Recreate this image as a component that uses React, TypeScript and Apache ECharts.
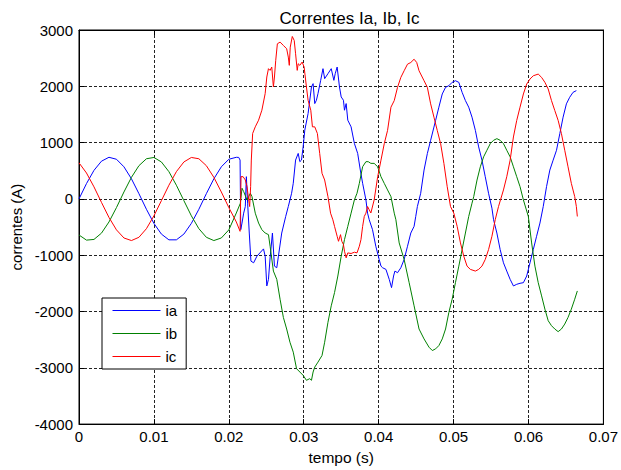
import React, { useEffect, useRef } from "react";
import * as echarts from "echarts";

const chartTitle = "Correntes Ia, Ib, Ic";
const xName = "tempo (s)";
const yName = "correntes (A)";
const seriesNames = ["ia", "ib", "ic"];
const xTickLabels = ["0", "0.01", "0.02", "0.03", "0.04", "0.05", "0.06", "0.07"];
const yTickLabels = ["-4000", "-3000", "-2000", "-1000", "0", "1000", "2000", "3000"];

const iaData = [
  [0, 0], [0.001, 272], [0.002, 507], [0.003, 670], [0.004, 739], [0.005, 704], [0.006, 570],
  [0.007, 357], [0.008, 93], [0.009, -184], [0.01, -435], [0.011, -625], [0.012, -727],
  [0.013, -727], [0.014, -625], [0.015, -435], [0.016, -184], [0.017, 93], [0.018, 357],
  [0.019, 570], [0.02, 704], [0.021, 739], [0.02132, 737], [0.0215, 690], [0.02159, -547],
  [0.02176, -430], [0.02198, -253], [0.0222, -135], [0.02234, 395], [0.02251, -76],
  [0.02273, -606], [0.02295, -1105], [0.02331, -1135], [0.02375, -1017], [0.02463, -888],
  [0.02485, -1017], [0.02507, -1546], [0.02529, -1429], [0.02551, -1047], [0.02582, -606],
  [0.02609, -1194], [0.0264, -1223], [0.02662, -1017], [0.02706, -606], [0.02759, -312],
  [0.02794, -135], [0.02838, 100], [0.0286, 277], [0.02891, 690], [0.02926, 808],
  [0.02948, 661], [0.0297, 690], [0.02992, 926], [0.03014, 1221], [0.03058, 1516],
  [0.03103, 1988], [0.03125, 2047], [0.03147, 1693], [0.03169, 1752], [0.0319, 1870],
  [0.03226, 2106], [0.03257, 2313], [0.03279, 2136], [0.03323, 2224], [0.03367, 2313],
  [0.03402, 2106], [0.0342, 2224], [0.03446, 2342], [0.03477, 1988], [0.035, 1811],
  [0.0353, 1752], [0.03544, 1575], [0.03566, 1693], [0.03588, 1398], [0.03632, 1280],
  [0.03676, 985], [0.0372, 808], [0.03755, 513], [0.03786, 277], [0.0383, -18],
  [0.03852, -253], [0.03874, -370], [0.03918, -547], [0.03962, -841], [0.04007, -1076],
  [0.04031, -1194], [0.04053, -1223], [0.04097, -1252], [0.04141, -1429], [0.04172, -1576],
  [0.04199, -1370], [0.04217, -1282], [0.04252, -1311], [0.04296, -1223], [0.0434, -1076],
  [0.04385, -841], [0.04429, -606], [0.04473, -488], [0.04495, -312], [0.04517, -135],
  [0.04561, 100], [0.04606, 512], [0.0465, 806], [0.04694, 1041], [0.04738, 1276],
  [0.0476, 1394], [0.04804, 1629], [0.04849, 1864], [0.04893, 1982], [0.04937, 2011],
  [0.04981, 2070], [0.05025, 2099], [0.0507, 2070], [0.05114, 1893], [0.05158, 1746],
  [0.05202, 1629], [0.05246, 1452], [0.05291, 1217], [0.05335, 923], [0.05379, 688],
  [0.05423, 394], [0.05467, 100], [0.05512, -165], [0.05534, -370], [0.05578, -606],
  [0.05622, -900], [0.05666, -1135], [0.0571, -1282], [0.05755, -1429], [0.05799, -1546],
  [0.05843, -1517], [0.05887, -1499], [0.05932, -1488], [0.05976, -1370], [0.0602, -1135],
  [0.06064, -900], [0.06108, -664], [0.06153, -429], [0.06197, -135], [0.06241, 218],
  [0.06285, 512], [0.06329, 688], [0.06374, 864], [0.06418, 1158], [0.06462, 1452],
  [0.06506, 1688], [0.0655, 1805], [0.06595, 1893], [0.06639, 1923],
];

const ibData = [
  [0, -641], [0.001, -732], [0.002, -720], [0.003, -608], [0.004, -410], [0.005, -154],
  [0.006, 123], [0.007, 383], [0.008, 590], [0.009, 713], [0.01, 736], [0.011, 656],
  [0.012, 484], [0.013, 243], [0.014, -31], [0.015, -301], [0.016, -529], [0.017, -682],
  [0.018, -740], [0.019, -694], [0.02, -550], [0.021, -250], [0.02154, -77], [0.02176, 189],
  [0.02198, 130], [0.02243, -18], [0.02265, 41], [0.02287, 100], [0.02309, 41],
  [0.02353, -254], [0.02397, -429], [0.02441, -547], [0.02485, -606], [0.02529, -635],
  [0.02551, -841], [0.02595, -1282], [0.0264, -1429], [0.02684, -1782], [0.02728, -2105],
  [0.02772, -2311], [0.02816, -2546], [0.0286, -2722], [0.02904, -3016], [0.02948, -3075],
  [0.02992, -3134], [0.03036, -3222], [0.0308, -3193], [0.03103, -3222], [0.03125, -3075],
  [0.03147, -2987], [0.0319, -2899], [0.03244, -2781], [0.03279, -2546], [0.03323, -2193],
  [0.03367, -1899], [0.03411, -1664], [0.03455, -1370], [0.035, -1017], [0.03544, -723],
  [0.03588, -488], [0.03632, -253], [0.03676, -18], [0.03711, 100], [0.03742, 277],
  [0.03786, 572], [0.0383, 661], [0.03861, 661], [0.03896, 631], [0.0394, 631],
  [0.03987, 570], [0.04031, 394], [0.04075, 276], [0.04119, 159], [0.04164, 41],
  [0.04208, -253], [0.0423, -370], [0.04274, -782], [0.0434, -1076], [0.04407, -1488],
  [0.04473, -1899], [0.04539, -2311], [0.04606, -2487], [0.04672, -2634], [0.04716, -2693],
  [0.0476, -2664], [0.04804, -2605], [0.04849, -2487], [0.04893, -2311], [0.04937, -2017],
  [0.04981, -1782], [0.05025, -1488], [0.0507, -1194], [0.05114, -900], [0.05158, -606],
  [0.05202, -312], [0.05246, -76], [0.05269, 41], [0.05313, 335], [0.05357, 570],
  [0.05401, 747], [0.05445, 864], [0.0549, 982], [0.05534, 1041], [0.05578, 1070],
  [0.05622, 1041], [0.05666, 982], [0.0571, 864], [0.05755, 747], [0.05799, 570],
  [0.05843, 394], [0.05887, 218], [0.05932, -18], [0.05998, -312], [0.06042, -782],
  [0.06086, -1194], [0.0613, -1488], [0.06175, -1723], [0.06219, -1958], [0.06263, -2164],
  [0.06307, -2252], [0.06351, -2311], [0.06396, -2358], [0.0644, -2311], [0.06484, -2223],
  [0.06528, -2105], [0.06572, -1958], [0.06617, -1782], [0.06652, -1635],
];

const icData = [
  [0, 641], [0.001, 460], [0.002, 214], [0.003, -62], [0.004, -329], [0.005, -550],
  [0.006, -694], [0.007, -740], [0.008, -682], [0.009, -529], [0.01, -301], [0.011, -31],
  [0.012, 243], [0.013, 484], [0.014, 656], [0.015, 736], [0.016, 713], [0.017, 590],
  [0.018, 383], [0.019, 123], [0.02, -154], [0.021, -410], [0.0215, -576], [0.02163, 395],
  [0.0219, 395], [0.0222, 336], [0.02243, 218], [0.02265, -18], [0.02278, -136],
  [0.02291, 218], [0.023, 690], [0.02318, 1162], [0.02353, 1280], [0.02397, 1398],
  [0.02441, 1575], [0.02485, 1870], [0.02507, 2165], [0.02529, 2313], [0.02551, 2283],
  [0.02573, 2342], [0.02595, 1988], [0.02609, 2165], [0.02626, 2460], [0.02648, 2755],
  [0.02684, 2785], [0.02728, 2726], [0.02772, 2667], [0.02794, 2519], [0.02807, 2372],
  [0.0282, 2696], [0.02847, 2885], [0.02873, 2814], [0.02891, 2578], [0.02913, 2283],
  [0.02926, 2401], [0.02948, 2372], [0.02979, 2431], [0.03005, 2342], [0.03036, 1988],
  [0.03058, 1752], [0.03094, 1575], [0.03116, 1280], [0.03147, 1280], [0.03182, 1162],
  [0.03213, 808], [0.03244, 454], [0.03279, 336], [0.03323, 41], [0.03358, -254],
  [0.03389, -372], [0.03411, -488], [0.03446, -664], [0.03464, -753], [0.03491, -635],
  [0.03508, -753], [0.0353, -811], [0.03544, -929], [0.03566, -1047], [0.03588, -959],
  [0.03632, -970], [0.03676, -947], [0.03711, -959], [0.03742, -841], [0.03764, -723],
  [0.03786, -488], [0.03808, -312], [0.0383, -253], [0.03852, -135], [0.03874, -194],
  [0.03896, -250], [0.0394, -18], [0.03987, 394], [0.04031, 688], [0.04075, 982],
  [0.04119, 1217], [0.04164, 1629], [0.04208, 1746], [0.04252, 1982], [0.04296, 2158],
  [0.0434, 2276], [0.04385, 2393], [0.04429, 2423], [0.04473, 2481], [0.04508, 2423],
  [0.04539, 2276], [0.04606, 2099], [0.0465, 1982], [0.04694, 1688], [0.04738, 1452],
  [0.04782, 1217], [0.04827, 982], [0.04871, 629], [0.04915, 218], [0.04959, -135],
  [0.05003, -253], [0.05048, -488], [0.05092, -782], [0.05136, -1017], [0.0518, -1194],
  [0.05224, -1252], [0.05291, -1282], [0.05335, -1252], [0.05379, -1194], [0.05423, -1076],
  [0.05467, -900], [0.05512, -664], [0.05556, -370], [0.056, -135], [0.05666, 159],
  [0.0571, 394], [0.05755, 688], [0.05799, 1100], [0.05843, 1394], [0.05887, 1629],
  [0.05932, 1864], [0.05976, 2040], [0.0602, 2129], [0.06064, 2187], [0.0613, 2217],
  [0.06175, 2158], [0.06219, 2070], [0.06263, 1952], [0.06307, 1746], [0.06351, 1570],
  [0.06396, 1394], [0.0644, 1158], [0.06484, 864], [0.06528, 570], [0.06572, 276],
  [0.06617, 41], [0.06639, -135], [0.06652, -312],
];

const seriesData = [iaData, ibData, icData];
const seriesColors = ["#0000ff", "#008000", "#ff0000"];

const FONT = "'Liberation Sans', Arial, sans-serif";

export default function App() {
  const ref = useRef<HTMLDivElement>(null);
  useEffect(() => {
    if (!ref.current) return;
    const chart = echarts.init(ref.current, null, { renderer: "svg" });
    const grid = { left: 79, right: 11, top: 30, bottom: 45 };
    const split = { show: true, lineStyle: { color: "#222", type: [3, 2] as any, width: 1 } };
    const boxLine = { show: true, onZero: false, lineStyle: { color: "#000" } };
    const tick = { show: true, inside: true, length: 5, lineStyle: { color: "#000" } };
    chart.setOption({
      animation: false,
      backgroundColor: "#ffffff",
      title: {
        text: chartTitle,
        left: 344.5,
        top: 5,
        textAlign: "center",
        textStyle: { fontFamily: FONT, fontSize: 17, fontWeight: "normal", color: "#000" },
      },
      legend: {
        data: seriesNames,
        orient: "vertical",
        left: 102,
        top: 298,
        itemWidth: 48,
        itemHeight: 14,
        itemGap: 8,
        padding: [5, 9, 5, 10],
        borderColor: "#000",
        borderWidth: 1,
        backgroundColor: "#fff",
        borderRadius: 0,
        itemStyle: { opacity: 0 },
        lineStyle: { width: 1 },
        textStyle: { fontFamily: FONT, fontSize: 15, color: "#000" },
      },
      grid: { ...grid, show: true, borderColor: "#000", borderWidth: 1, backgroundColor: "#fff" },
      xAxis: [
        {
          type: "value",
          min: 0,
          max: 0.07,
          interval: 0.01,
          name: xName,
          nameLocation: "middle",
          nameGap: 24,
          nameTextStyle: { fontFamily: FONT, fontSize: 15.5, color: "#000" },
          axisLine: boxLine,
          axisTick: tick,
          axisLabel: {
            fontFamily: FONT,
            fontSize: 15,
            color: "#000",
            margin: 5,
            formatter: (v: number) => xTickLabels[Math.round(v / 0.01)] ?? "",
          },
          splitLine: split,
        },
        {
          type: "value",
          position: "top",
          min: 0,
          max: 0.07,
          interval: 0.01,
          axisLine: boxLine,
          axisTick: tick,
          axisLabel: { show: false },
          splitLine: { show: false },
        },
      ],
      yAxis: [
        {
          type: "value",
          min: -4000,
          max: 3000,
          interval: 1000,
          name: yName,
          nameLocation: "middle",
          nameGap: 53,
          nameTextStyle: { fontFamily: FONT, fontSize: 15, color: "#000" },
          axisLine: boxLine,
          axisTick: tick,
          axisLabel: {
            fontFamily: FONT,
            fontSize: 15,
            color: "#000",
            margin: 6,
            formatter: (v: number) => yTickLabels[Math.round((v + 4000) / 1000)] ?? "",
          },
          splitLine: split,
        },
        {
          type: "value",
          position: "right",
          min: -4000,
          max: 3000,
          interval: 1000,
          axisLine: boxLine,
          axisTick: tick,
          axisLabel: { show: false },
          splitLine: { show: false },
        },
      ],
      series: seriesNames.map((name, i) => ({
        name,
        type: "line",
        data: seriesData[i],
        showSymbol: false,
        symbol: "none",
        color: seriesColors[i],
        lineStyle: { width: 1, color: seriesColors[i] },
        xAxisIndex: 0,
        yAxisIndex: 0,
      })),
    });
    return () => chart.dispose();
  }, []);
  return (
    <div
      ref={ref}
      style={{ position: "absolute", left: 0, top: 0, width: 621, height: 470, background: "#fff" }}
    />
  );
}
